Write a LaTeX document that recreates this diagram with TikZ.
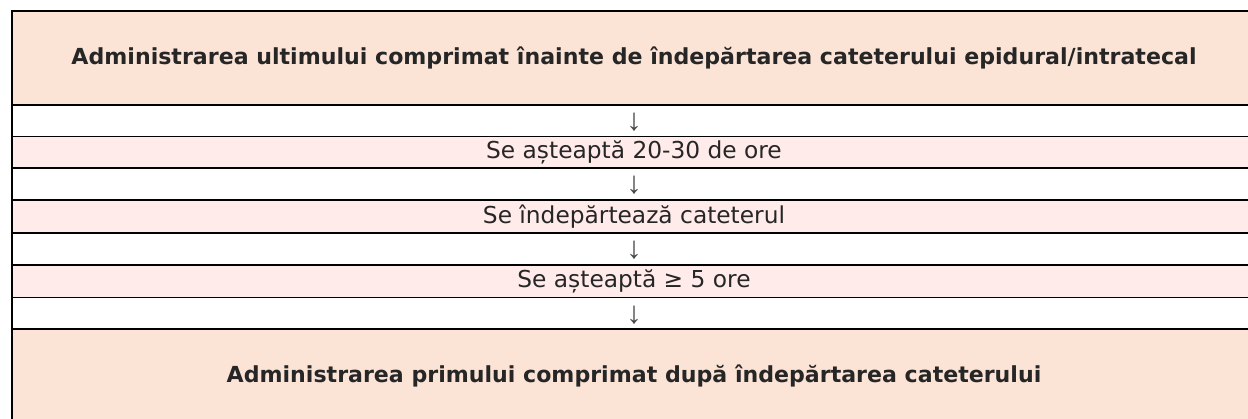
\documentclass[tikz,border=0pt]{standalone}
\usepackage{fontspec}
\setmainfont{DejaVu Sans}
\newfontfamily\arrowfont{Liberation Sans}
\definecolor{peach}{HTML}{FBE3D6}
\definecolor{lightpink}{HTML}{FFEBEA}
\definecolor{inkgray}{HTML}{262626}
\begin{document}
\begin{tikzpicture}[x=1pt,y=-1pt,
	bigrow/.style={draw=black, line width=1.6pt, fill=peach, minimum width=1244pt, minimum height=94pt, inner sep=0pt, text=inkgray, font=\fontsize{22.1}{26}\selectfont\bfseries},
	steprow/.style={draw=black, line width=1.6pt, fill=lightpink, minimum width=1244pt, minimum height=32pt, inner sep=0pt, text=inkgray, font=\fontsize{23.3}{27}\selectfont},
	arrowrow/.style={draw=black, line width=1.6pt, fill=white, minimum width=1244pt, minimum height=32pt, inner sep=0pt, text height=20pt, text depth=0pt, text=inkgray!85!white, font=\arrowfont\fontsize{31}{33}\selectfont}]
	\useasboundingbox (0,0) rectangle (1248,419);
	\begin{scope}
	\clip (0,0) rectangle (1248,419);
	% first and last dose
	\node[bigrow] (lastdose) at (634,58) {Administrarea ultimului comprimat înainte de îndepărtarea cateterului epidural/intratecal};
	\node[arrowrow] (arrowa) at (634,121) {↓};
	\node[steprow] (waitlong) at (634,152.5) {Se așteaptă 20-30 de ore};
	\node[arrowrow] (arrowb) at (634,184) {↓};
	\node[steprow] (removal) at (634,216.5) {Se îndepărtează cateterul};
	\node[arrowrow] (arrowc) at (634,249) {↓};
	\node[steprow] (waitshort) at (634,281.5) {Se așteaptă ≥ 5 ore};
	\node[arrowrow] (arrowd) at (634,313.5) {↓};
	\node[bigrow] (firstdose) at (634,376) {Administrarea primului comprimat după îndepărtarea cateterului};
	\end{scope}
\end{tikzpicture}
\end{document}
